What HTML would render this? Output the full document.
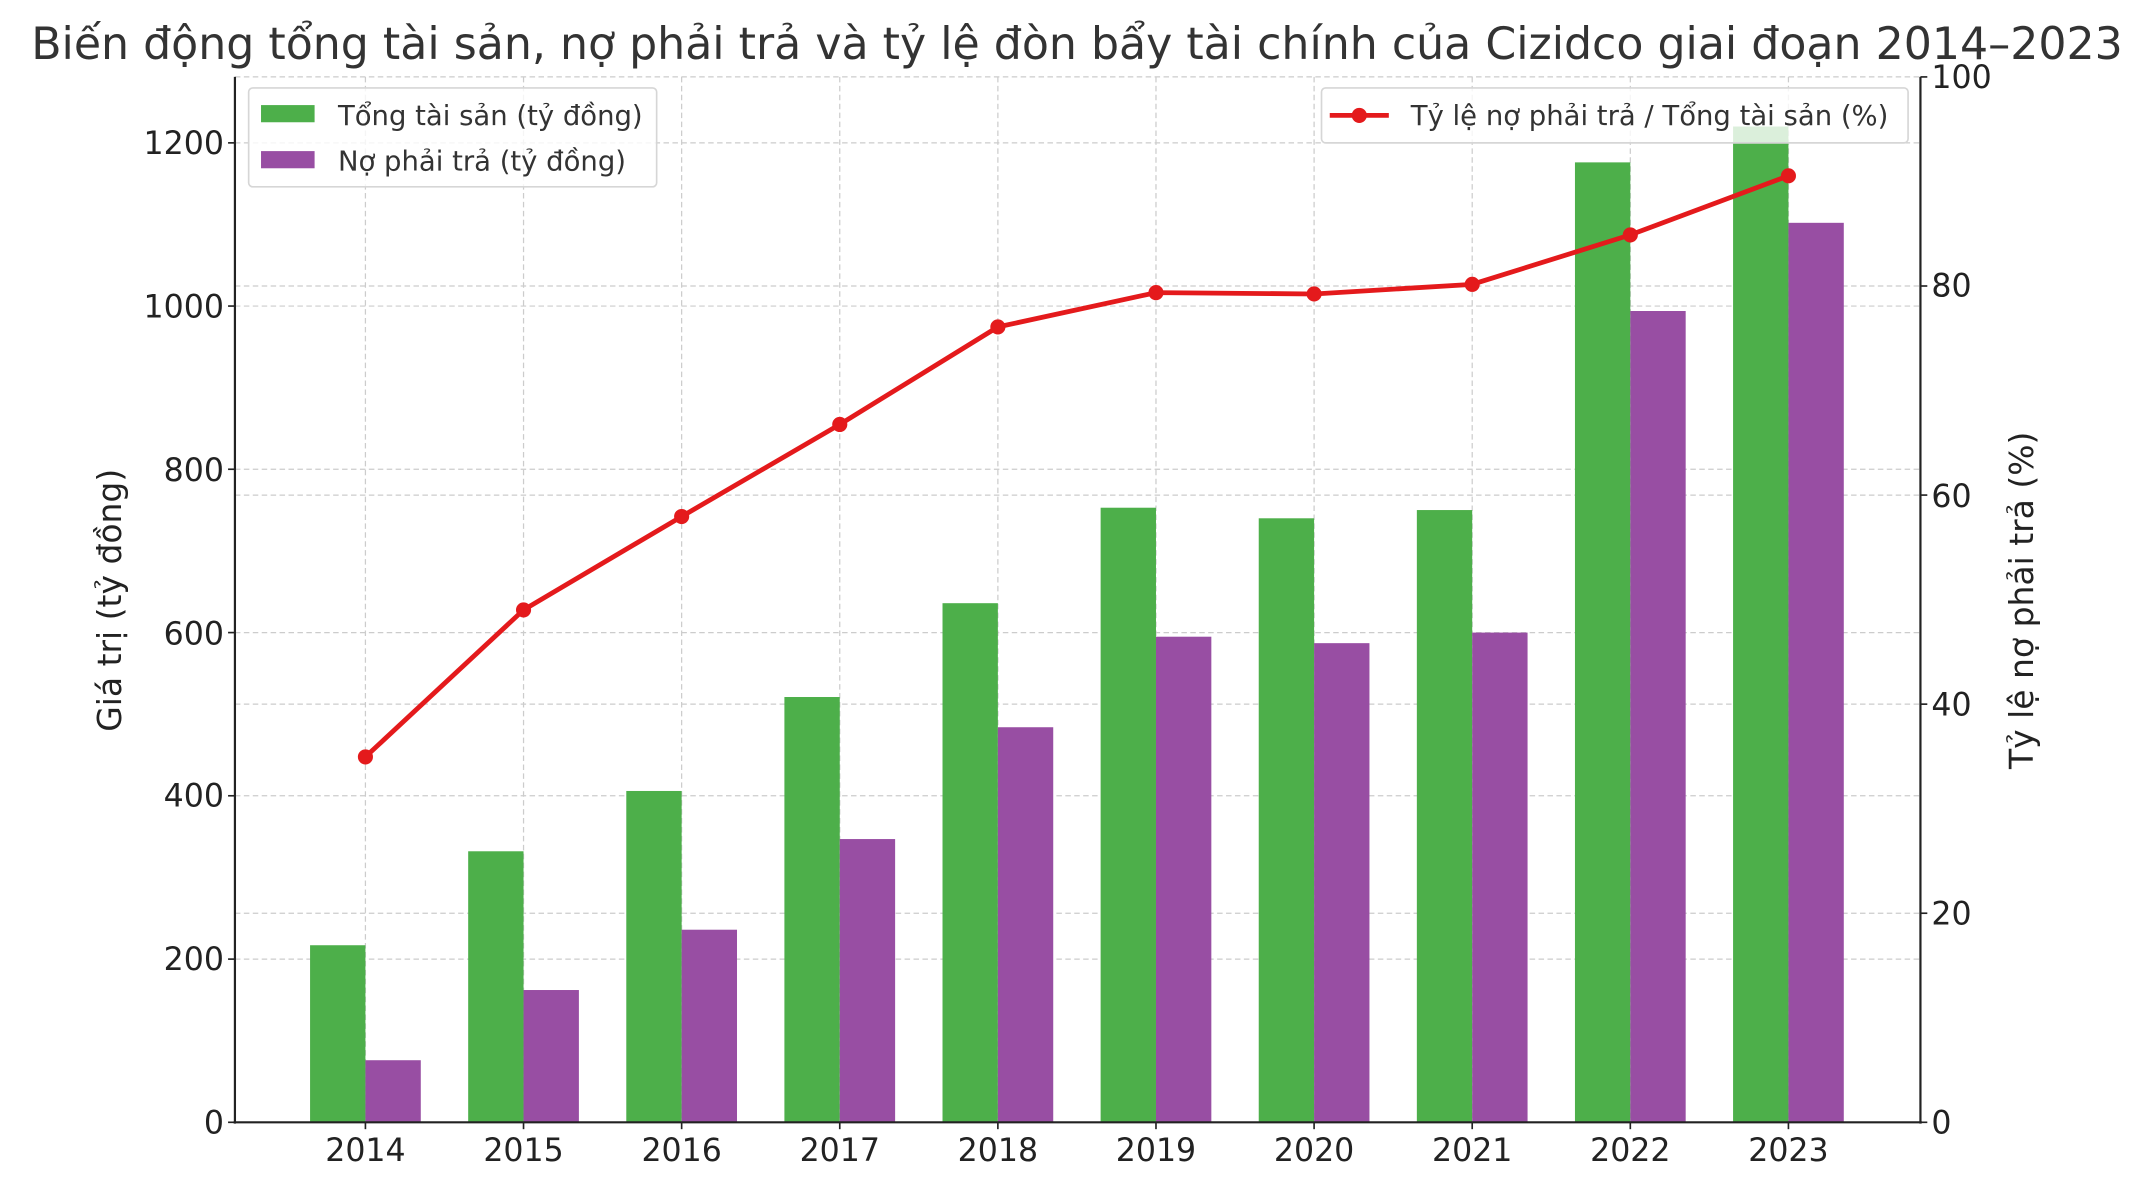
<!DOCTYPE html>
<html><head><meta charset="utf-8"><style>
html,body{margin:0;padding:0;background:#fff;}
svg{display:block;}
text{font-family:"DejaVu Sans","Liberation Sans",sans-serif;}
</style></head><body>
<svg width="2143" height="1180" viewBox="0 0 1560 859" xmlns="http://www.w3.org/2000/svg">
<rect width="1560" height="859" fill="#fff"/>
<text x="784" y="43" font-size="32.2" fill="#333" text-anchor="middle">Biến động tổng tài sản, nợ phải trả và tỷ lệ đòn bẩy tài chính của Cizidco giai đoạn 2014–2023</text>
<g stroke="#cccccc" stroke-width="0.9" stroke-dasharray="4,2.5" fill="none">
<line x1="171" x2="1398" y1="698.2" y2="698.2"/>
<line x1="171" x2="1398" y1="579.3" y2="579.3"/>
<line x1="171" x2="1398" y1="460.5" y2="460.5"/>
<line x1="171" x2="1398" y1="341.6" y2="341.6"/>
<line x1="171" x2="1398" y1="222.8" y2="222.8"/>
<line x1="171" x2="1398" y1="104" y2="104"/>
<line x1="171" x2="1398" y1="664.8" y2="664.8"/>
<line x1="171" x2="1398" y1="512.6" y2="512.6"/>
<line x1="171" x2="1398" y1="360.4" y2="360.4"/>
<line x1="171" x2="1398" y1="208.2" y2="208.2"/>
<line x1="171" x2="1398" y1="56" y2="56"/>
<line x1="266" x2="266" y1="56" y2="817"/>
<line x1="381.1" x2="381.1" y1="56" y2="817"/>
<line x1="496.2" x2="496.2" y1="56" y2="817"/>
<line x1="611.3" x2="611.3" y1="56" y2="817"/>
<line x1="726.4" x2="726.4" y1="56" y2="817"/>
<line x1="841.5" x2="841.5" y1="56" y2="817"/>
<line x1="956.6" x2="956.6" y1="56" y2="817"/>
<line x1="1071.7" x2="1071.7" y1="56" y2="817"/>
<line x1="1186.8" x2="1186.8" y1="56" y2="817"/>
<line x1="1301.9" x2="1301.9" y1="56" y2="817"/>
</g>
<g fill="#4daf4a">
<rect x="225.7" y="688.1" width="40.3" height="128.9"/>
<rect x="340.8" y="619.7" width="40.3" height="197.3"/>
<rect x="455.9" y="575.8" width="40.3" height="241.2"/>
<rect x="571" y="507.4" width="40.3" height="309.6"/>
<rect x="686.1" y="439.1" width="40.3" height="377.9"/>
<rect x="801.2" y="369.6" width="40.3" height="447.4"/>
<rect x="916.3" y="377.3" width="40.3" height="439.7"/>
<rect x="1031.4" y="371.3" width="40.3" height="445.7"/>
<rect x="1146.5" y="118.2" width="40.3" height="698.8"/>
<rect x="1261.6" y="92.1" width="40.3" height="724.9"/>
</g>
<g fill="#984ea3">
<rect x="266" y="771.8" width="40.3" height="45.2"/>
<rect x="381.1" y="720.7" width="40.3" height="96.3"/>
<rect x="496.2" y="676.8" width="40.3" height="140.2"/>
<rect x="611.3" y="610.8" width="40.3" height="206.2"/>
<rect x="726.4" y="529.4" width="40.3" height="287.6"/>
<rect x="841.5" y="463.5" width="40.3" height="353.5"/>
<rect x="956.6" y="468.2" width="40.3" height="348.8"/>
<rect x="1071.7" y="460.5" width="40.3" height="356.5"/>
<rect x="1186.8" y="226.4" width="40.3" height="590.6"/>
<rect x="1301.9" y="162.2" width="40.3" height="654.8"/>
</g>
<polyline fill="none" stroke="#e41a1c" stroke-width="3.5" points="266,551 381.1,444 496.2,376 611.3,309 726.4,238 841.5,213 956.6,214 1071.7,207 1186.8,171 1301.9,128"/>
<g fill="#e41a1c">
<circle cx="266" cy="551" r="5.5"/><circle cx="381.1" cy="444" r="5.5"/><circle cx="496.2" cy="376" r="5.5"/><circle cx="611.3" cy="309" r="5.5"/><circle cx="726.4" cy="238" r="5.5"/><circle cx="841.5" cy="213" r="5.5"/><circle cx="956.6" cy="214" r="5.5"/><circle cx="1071.7" cy="207" r="5.5"/><circle cx="1186.8" cy="171" r="5.5"/><circle cx="1301.9" cy="128" r="5.5"/>
</g>
<g stroke="#222" stroke-width="1.6">
<line x1="171" x2="171" y1="56" y2="818"/>
<line x1="1398" x2="1398" y1="56" y2="818"/>
<line x1="170" x2="1399" y1="817" y2="817"/>
</g>
<g stroke="#222" stroke-width="1.2">
<line x1="166" x2="171" y1="817" y2="817"/><line x1="166" x2="171" y1="698.2" y2="698.2"/><line x1="166" x2="171" y1="579.3" y2="579.3"/><line x1="166" x2="171" y1="460.5" y2="460.5"/><line x1="166" x2="171" y1="341.6" y2="341.6"/><line x1="166" x2="171" y1="222.8" y2="222.8"/><line x1="166" x2="171" y1="104" y2="104"/>
<line x1="1398" x2="1403" y1="817" y2="817"/><line x1="1398" x2="1403" y1="664.8" y2="664.8"/><line x1="1398" x2="1403" y1="512.6" y2="512.6"/><line x1="1398" x2="1403" y1="360.4" y2="360.4"/><line x1="1398" x2="1403" y1="208.2" y2="208.2"/><line x1="1398" x2="1403" y1="56" y2="56"/>
<line x1="266" x2="266" y1="817" y2="822"/><line x1="381.1" x2="381.1" y1="817" y2="822"/><line x1="496.2" x2="496.2" y1="817" y2="822"/><line x1="611.3" x2="611.3" y1="817" y2="822"/><line x1="726.4" x2="726.4" y1="817" y2="822"/><line x1="841.5" x2="841.5" y1="817" y2="822"/><line x1="956.6" x2="956.6" y1="817" y2="822"/><line x1="1071.7" x2="1071.7" y1="817" y2="822"/><line x1="1186.8" x2="1186.8" y1="817" y2="822"/><line x1="1301.9" x2="1301.9" y1="817" y2="822"/>
</g>
<g font-size="23" fill="#222" text-anchor="end">
<text x="163" y="825">0</text><text x="163" y="706">200</text><text x="163" y="587">400</text><text x="163" y="469">600</text><text x="163" y="350">800</text><text x="163" y="231">1000</text><text x="163" y="112">1200</text>
</g>
<g font-size="23" fill="#222">
<text x="1406" y="825">0</text><text x="1406" y="673">20</text><text x="1406" y="521">40</text><text x="1406" y="369">60</text><text x="1406" y="216">80</text><text x="1406" y="64">100</text>
</g>
<g font-size="23" fill="#222" text-anchor="middle">
<text x="266" y="845">2014</text><text x="381.1" y="845">2015</text><text x="496.2" y="845">2016</text><text x="611.3" y="845">2017</text><text x="726.4" y="845">2018</text><text x="841.5" y="845">2019</text><text x="956.6" y="845">2020</text><text x="1071.7" y="845">2021</text><text x="1186.8" y="845">2022</text><text x="1301.9" y="845">2023</text>
</g>
<text transform="translate(88,437) rotate(-90)" font-size="24" fill="#222" text-anchor="middle">Giá trị (tỷ đồng)</text>
<text transform="translate(1480,437) rotate(-90)" font-size="24" fill="#222" text-anchor="middle">Tỷ lệ nợ phải trả (%)</text>
<rect x="181" y="64" width="297" height="72" rx="3" fill="#fff" fill-opacity="0.8" stroke="#d6d6d6" stroke-width="1.2"/>
<rect x="190" y="76.5" width="39" height="12.5" fill="#4daf4a"/>
<rect x="190" y="110" width="39" height="12.5" fill="#984ea3"/>
<text x="246" y="91" font-size="20" fill="#333">Tổng tài sản (tỷ đồng)</text>
<text x="246" y="124" font-size="20" fill="#333">Nợ phải trả (tỷ đồng)</text>
<rect x="962" y="64" width="427" height="40" rx="3" fill="#fff" fill-opacity="0.8" stroke="#d6d6d6" stroke-width="1.2"/>
<line x1="968" x2="1011" y1="84" y2="84" stroke="#e41a1c" stroke-width="3.5"/>
<circle cx="989.5" cy="84" r="5.5" fill="#e41a1c"/>
<text x="1027" y="91" font-size="20" fill="#333">Tỷ lệ nợ phải trả / Tổng tài sản (%)</text>
</svg>
</body></html>
